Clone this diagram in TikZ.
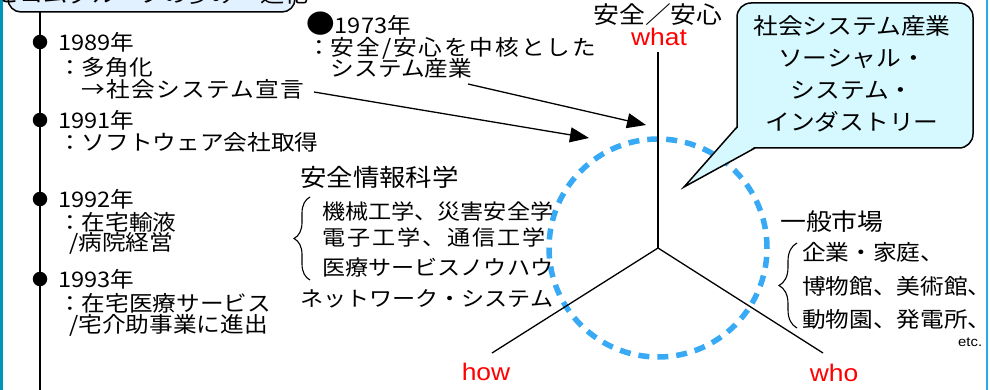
\documentclass[tikz,border=0pt]{standalone}
\usepackage{fontspec}
\setmainfont{Noto Sans CJK JP}[FakeStretch=1.1]
\newfontfamily\latfont{Liberation Sans}[FakeStretch=1.1]
\usetikzlibrary{arrows.meta,decorations.pathreplacing}
\definecolor{ringblue}{RGB}{56,170,245}
\definecolor{callfill}{RGB}{214,249,255}
\definecolor{titlefill}{RGB}{226,241,255}
\definecolor{edgeteal}{RGB}{0,150,185}
\definecolor{edgeblue}{RGB}{40,170,230}
\definecolor{labred}{RGB}{255,0,0}
\begin{document}
\begin{tikzpicture}[x=1pt,y=-1pt,
  txt/.style={inner sep=0pt, anchor=west, font=\fontsize{21.5}{21.5}\selectfont},
  sci/.style={inner sep=0pt, anchor=west, font=\fontsize{21}{21}\selectfont},
  head/.style={inner sep=0pt, anchor=west, font=\fontsize{24}{24}\selectfont},
  tdot/.style={circle, fill=black, inner sep=0pt, minimum size=14.5pt},
  axisline/.style={line width=1.3pt},
  arr/.style={line width=1.3pt, -{Triangle[length=19pt,width=15pt]}},
  ring/.style={draw=ringblue, line width=5.5pt, dash pattern=on 11pt off 8pt},
  brc/.style={decorate, decoration={brace, amplitude=#1}, line width=1.1pt},
  axlab/.style={inner sep=0pt, text=labred, font=\latfont\fontsize{24}{24}\selectfont},
  calltext/.style={inner sep=0pt, align=center, font=\fontsize{22.5}{32}\selectfont},
]
\useasboundingbox (0,0) rectangle (990,390);
\clip (0,0) rectangle (990,390);
\fill[white] (0,0) rectangle (990,390);
% frame edges
\fill[edgeteal] (0,0) rectangle (2.5,390);
\draw[edgeblue, line width=1.5pt] (987,0) -- (987,390);

% title box (cut off at top)
\node[draw, fill=titlefill, line width=1.5pt, rounded corners=13pt,
      minimum width=287pt, minimum height=60pt] (titlebox) at (151.5,-18) {};
\node[inner sep=0pt, anchor=base, font=\fontsize{22}{22}\selectfont] (titletext) at (152,3) {セコムグループの歩み・進化};

% timeline
\coordinate (tltop) at (40,12);
\coordinate (tlbot) at (40,392);
\draw[line width=1.3pt] (tltop) -- (tlbot);
\node[tdot] (d1989) at (40,42) {};
\node[tdot] (d1991) at (40,120) {};
\node[tdot] (d1992) at (40,199) {};
\node[tdot] (d1993) at (40,279) {};

\node[txt] (y1989) at (58,42) {1989年};
\node[txt] (t1989a) at (58,67) {：多角化};
\node[txt] (t1989b) at (58,89) {　\addfontfeatures{LetterSpace=6}→社会システム宣言};
\node[txt] (y1991) at (58,120) {1991年};
\node[txt] (t1991) at (58,142) {：ソフトウェア会社取得};
\node[txt] (y1992) at (58,199) {1992年};
\node[txt] (t1992a) at (58,222) {：在宅輸液};
\node[txt] (t1992b) at (58,243) {\hspace{11pt}/病院経営};
\node[txt] (y1993) at (58,279) {1993年};
\node[txt] (t1993a) at (58,303) {：在宅医療サービス};
\node[txt] (t1993b) at (58,325) {\hspace{11pt}/宅介助事業に進出};

% 1973
\node[txt] (y1973) at (306,24) {{\fontsize{26}{26}\selectfont ●}1973年};
\node[txt] (t1973a) at (307,48) {：\addfontfeatures{LetterSpace=9}安全/安心を中核とした};
\node[txt] (t1973b) at (307,68) {　システム産業};

% ring
\coordinate (O) at (658,248);
\draw[ring] (O) circle[radius=109pt];

% axes
\coordinate (whatend) at (658,52);
\coordinate (howend) at (492,353);
\coordinate (whoend) at (823,353);
\draw[axisline] (whatend) -- (O);
\draw[axisline] (O) -- (howend);
\draw[axisline] (O) -- (whoend);
\node[head, anchor=center, font=\fontsize{23.5}{23.5}\selectfont] (anshin) at (658,15) {安全／安心};
\node[axlab] (what) at (659,37) {what};
\node[axlab] (how) at (486,372) {how};
\node[axlab] (who) at (834,373) {who};

% arrows
\coordinate (a1s) at (314,92);
\coordinate (a1e) at (589,138);
\coordinate (a2s) at (468,84);
\coordinate (a2e) at (646,125);
\draw[arr] (a1s) -- (a1e);
\draw[arr] (a2s) -- (a2e);

% callout
\node[draw, fill=callfill, line width=1.5pt, rounded corners=14pt,
      minimum width=236pt, minimum height=145pt] (callout) at (855,75.5) {};
\fill[callfill] (738.6,127) -- (684,187) -- (755,146.6) -- (744,140) -- cycle;
\coordinate (ptA) at (737,127);
\coordinate (ptTip) at (684,187);
\coordinate (ptB) at (755,148);
\draw[line width=1.5pt, line join=miter] (ptA) -- (ptTip) -- (ptB);
\node[calltext] (calltxt) at (852,73.5) {社会システム産業\\ソーシャル・\\システム・\\インダストリー};

% science block
\node[head] (sci0) at (300,177) {安全情報科学};
\node[sci] (sci1) at (322,212) {機械工学、災害安全学};
\node[sci] (sci2) at (322,237) {\addfontfeatures{LetterSpace=9}電子工学、通信工学};
\node[sci] (sci3) at (322,268) {医療サービスノウハウ};
\node[sci] (sci4) at (300,299) {ネットワーク・システム};
\coordinate (b1bot) at (310,280);
\coordinate (b1top) at (310,197);
\draw[brc=16pt] (b1bot) -- (b1top);

% market block
\node[head, font=\fontsize{23.5}{23.5}\selectfont] (mkt0) at (780,222) {一般市場};
\node[txt] (mkt1) at (802,252) {企業・家庭、};
\node[txt] (mkt2) at (802,286) {博物館、美術館、};
\node[txt] (mkt3) at (802,319) {動物園、発電所、};
\node[inner sep=0pt, anchor=west, font=\latfont\fontsize{13.5}{13.5}\selectfont] (etc) at (958,342) {etc.};
\coordinate (b2bot) at (797,328);
\coordinate (b2top) at (797,243);
\draw[brc=18pt] (b2bot) -- (b2top);
\end{tikzpicture}
\end{document}
